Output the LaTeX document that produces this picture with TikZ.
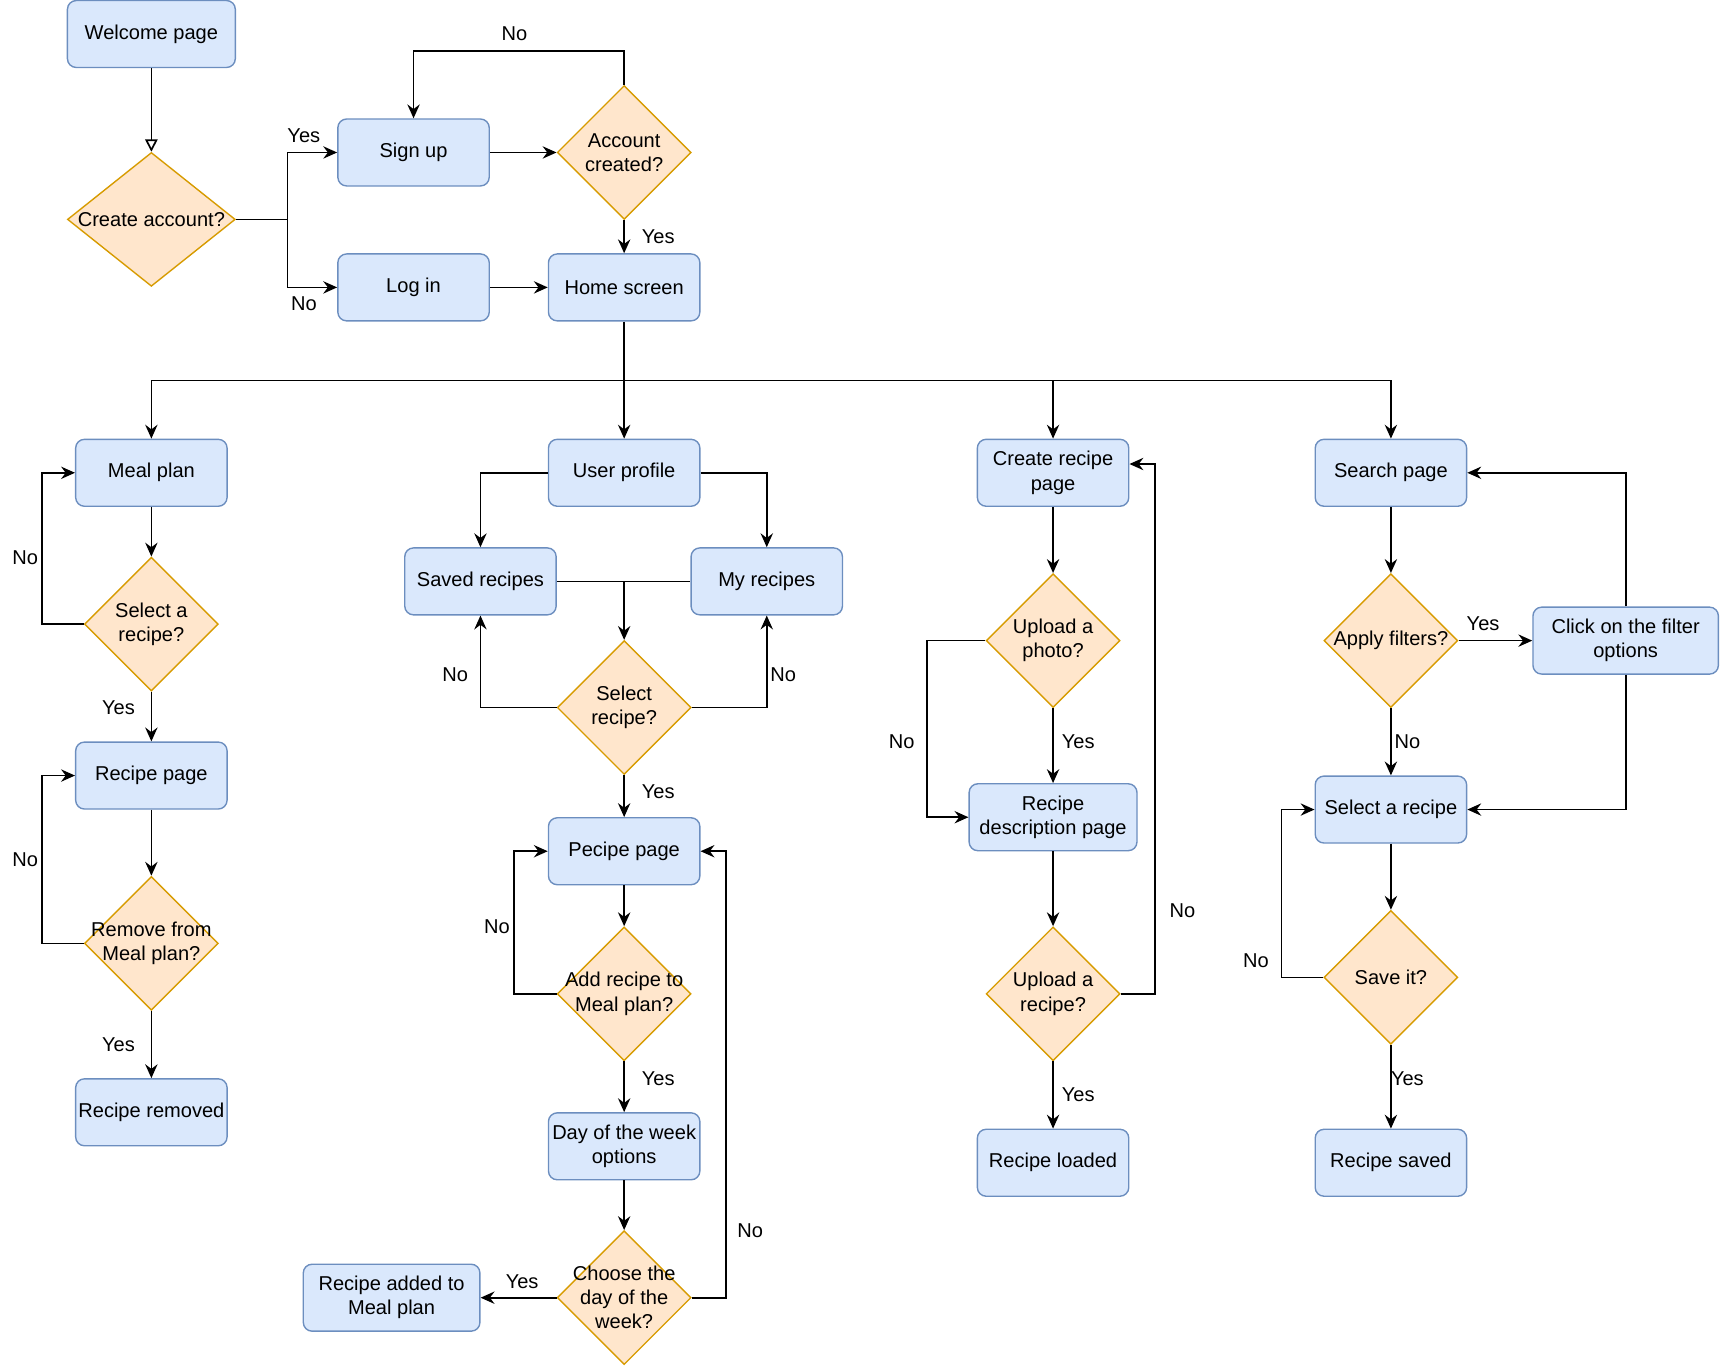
\documentclass[tikz,border=0pt]{standalone}
\usepackage{fontspec}
\setmainfont{Liberation Sans}
\usetikzlibrary{shapes.geometric,arrows.meta}
\definecolor{boxfill}{HTML}{DAE8FC}
\definecolor{boxline}{HTML}{6C8EBF}
\definecolor{decfill}{HTML}{FFE6CC}
\definecolor{decline}{HTML}{D79B00}
\begin{document}
\begin{tikzpicture}[x=0.025cm,y=-0.025cm,font=\fontsize{13}{15.6}\selectfont,
  box/.style={draw=boxline,fill=boxfill,rounded corners=0.2cm,line width=0.9pt,minimum width=3.45cm,minimum height=1.525cm,align=center,inner sep=1pt},
  decision/.style={diamond,draw=decline,fill=decfill,line width=0.9pt,inner sep=0pt,minimum width=3.05cm,minimum height=3.05cm,label={[align=center]center:#1}},
  arr/.style={-{Stealth[length=9pt,width=8pt,inset=3pt]},line width=1.1pt},
  plain/.style={line width=1.1pt},
  lbl/.style={inner sep=0pt}]
\useasboundingbox (0,0) rectangle (1568,1245);
% top part
\node[box,minimum width=3.825cm] (welcome) at (138,31) {Welcome page};
\node[decision={Create account?},minimum width=3.825cm] (createacc) at (138,200) {};
\node[box] (signup) at (377,139) {Sign up};
\node[decision={Account\\created?}] (acccreated) at (569,139) {};
\node[box] (login) at (377,262) {Log in};
\node[box] (home) at (569,262) {Home screen};
% meal plan column
\node[box] (mealplan) at (138,431) {Meal plan};
\node[decision={Select a\\recipe?}] (selrecA) at (138,569) {};
\node[box] (recpageA) at (138,707) {Recipe page};
\node[decision={Remove from\\Meal plan?}] (remove) at (138,860) {};
\node[box] (removed) at (138,1014) {Recipe removed};
% user profile column
\node[box] (profile) at (569,431) {User profile};
\node[box] (savedrec) at (438,530) {Saved recipes};
\node[box] (myrec) at (699,530) {My recipes};
\node[decision={Select\\recipe?}] (selrecB) at (569,645) {};
\node[box] (recpageB) at (569,776) {Pecipe page};
\node[decision={Add recipe to\\Meal plan?}] (addrec) at (569,906) {};
\node[box] (dayopts) at (569,1045) {Day of the week\\options};
\node[decision={Choose the\\day of the\\week?}] (chooseday) at (569,1183) {};
\node[box,minimum width=4.025cm] (added) at (357,1183) {Recipe added to\\Meal plan};
% create recipe column
\node[box] (createpage) at (960,431) {Create recipe\\page};
\node[decision={Upload a\\photo?}] (photo) at (960,584) {};
\node[box,minimum width=3.825cm] (descpage) at (960,745) {Recipe\\description page};
\node[decision={Upload a\\recipe?}] (uploadrec) at (960,906) {};
\node[box] (loaded) at (960,1060) {Recipe loaded};
% search column
\node[box] (search) at (1268,431) {Search page};
\node[decision={Apply filters?}] (filters) at (1268,584) {};
\node[box,minimum width=4.225cm] (clickfilter) at (1482,584) {Click on the filter\\options};
\node[box] (selrecC) at (1268,738) {Select a recipe};
\node[decision={Save it?}] (saveit) at (1268,891) {};
\node[box] (savedC) at (1268,1060) {Recipe saved};
% connectors
\draw[-{Triangle[open,length=8pt,width=8pt]},line width=1.1pt] (welcome) -- (createacc);
\coordinate (split) at (262,200);
\draw[plain] (createacc.east) -- (split);
\draw[arr] (split) |- (signup.west);
\draw[arr] (split) |- (login.west);
\draw[arr] (signup) -- (acccreated);
\draw[arr] (acccreated.north) -- ++(0,-31) -| (signup.north);
\draw[arr] (acccreated) -- (home);
\draw[arr] (login) -- (home);
\coordinate (bus) at (569,347);
\draw[plain] (home.south) -- (bus);
\draw[arr] (bus) -| (mealplan.north);
\draw[arr] (bus) -- (profile);
\draw[arr] (bus) -| (createpage.north);
\draw[arr] (bus) -| (search.north);
\draw[arr] (mealplan) -- (selrecA);
\draw[arr] (selrecA.west) -- ++(-38,0) |- (mealplan.west);
\draw[arr] (selrecA) -- (recpageA);
\draw[arr] (recpageA) -- (remove);
\draw[arr] (remove.west) -- ++(-38,0) |- (recpageA.west);
\draw[arr] (remove) -- (removed);
\draw[arr] (profile.west) -| (savedrec.north);
\draw[arr] (profile.east) -| (myrec.north);
\draw[plain] (savedrec.east) -- (myrec.west);
\coordinate (join) at (569,530);
\draw[arr] (join) -- (selrecB.north);
\draw[arr] (selrecB.west) -| (savedrec.south);
\draw[arr] (selrecB.east) -| (myrec.south);
\draw[arr] (selrecB) -- (recpageB);
\draw[arr] (recpageB) -- (addrec);
\draw[arr] (addrec.west) -- ++(-39,0) |- (recpageB.west);
\draw[arr] (addrec) -- (dayopts);
\draw[arr] (dayopts) -- (chooseday);
\draw[arr] (chooseday.west) -- (added.east);
\draw[arr] (chooseday.east) -- ++(31,0) |- (recpageB.east);
\draw[arr] (createpage) -- (photo);
\draw[arr] (photo) -- (descpage);
\draw[arr] (photo.west) -- ++(-53,0) |- (descpage.west);
\draw[arr] (descpage) -- (uploadrec);
\draw[arr] (uploadrec) -- (loaded);
\draw[arr] (uploadrec.east) -- ++(31,0) |- ([yshift=0.2cm]createpage.east);
\draw[arr] (search) -- (filters);
\draw[arr] (filters) -- (clickfilter);
\draw[arr] (clickfilter.north) |- (search.east);
\draw[arr] (clickfilter.south) |- (selrecC.east);
\draw[arr] (filters) -- (selrecC);
\draw[arr] (selrecC) -- (saveit);
\draw[arr] (saveit.west) -- ++(-38,0) |- (selrecC.west);
\draw[arr] (saveit) -- (savedC);
% yes / no labels
\node[lbl] (noA) at (469,31) {No};
\node[lbl] (yesA) at (277,124) {Yes};
\node[lbl] (noB) at (277,277) {No};
\node[lbl] (yesB) at (600,216) {Yes};
\node[lbl] (noC) at (23,508) {No};
\node[lbl] (yesC) at (108,645) {Yes};
\node[lbl] (noD) at (23,784) {No};
\node[lbl] (yesD) at (108,952) {Yes};
\node[lbl] (noE) at (415,615) {No};
\node[lbl] (noF) at (714,615) {No};
\node[lbl] (yesE) at (600,722) {Yes};
\node[lbl] (noG) at (453,845) {No};
\node[lbl] (yesF) at (600,983) {Yes};
\node[lbl] (yesG) at (476,1168) {Yes};
\node[lbl] (noH) at (684,1122) {No};
\node[lbl] (noI) at (822,676) {No};
\node[lbl] (yesH) at (983,676) {Yes};
\node[lbl] (noJ) at (1078,830) {No};
\node[lbl] (yesI) at (983,998) {Yes};
\node[lbl] (yesJ) at (1352,569) {Yes};
\node[lbl] (noK) at (1283,676) {No};
\node[lbl] (noL) at (1145,876) {No};
\node[lbl] (yesK) at (1283,983) {Yes};
\end{tikzpicture}
\end{document}
